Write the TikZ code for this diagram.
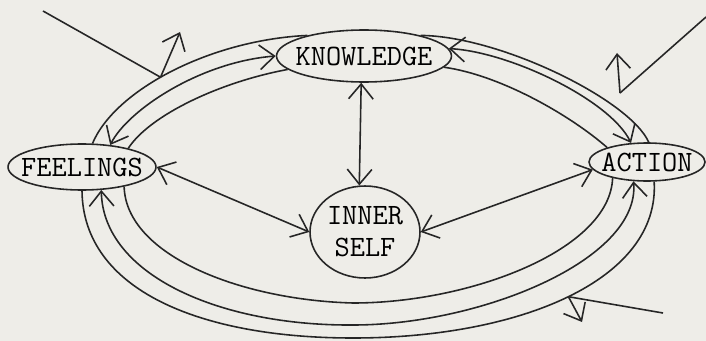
\documentclass[tikz,border=0pt]{standalone}
\usepackage{fontspec}
\usetikzlibrary{arrows.meta, shapes.geometric}
\definecolor{paper}{HTML}{EEEDE8}
\definecolor{ink}{HTML}{262626}
\newcommand{\slim}[1]{\makebox[0pt]{#1}}

\begin{document}
\begin{tikzpicture}[
    x=0.02cm, y=-0.02cm,
    line width=0.9pt, draw=ink,
    >={Straight Barb[length=8.5pt, width=14pt]},
    idea/.style={ellipse, draw=ink, inner sep=0pt, text=black,
                 font=\ttfamily\addfontfeatures{FakeBold=0.8}\fontsize{16.8}{18.3}\selectfont},
  ]
    \useasboundingbox (0,0) rectangle (706,341);
    \fill[paper] (0,0) rectangle (706,341);

    \node[idea, minimum width=3.5cm, minimum height=1.04cm] (know) at (364,56) {\slim{KNOWLEDGE}};
    \node[idea, minimum width=2.96cm, minimum height=0.92cm] (feel) at (82,167) {\slim{FEELINGS}};
    \node[idea, minimum width=2.32cm, minimum height=0.76cm] (act) at (647,162) {\slim{ACTION}};
    \node[idea, minimum width=2.2cm, minimum height=1.84cm, align=center] (self) at (365,232) {\slim{INNER}\\\slim{SELF}};

    \draw (feel.66) .. controls (115,90) and (210,40) .. coordinate[pos=0.45] (tlfoot) (know.160);
    \draw[<->] (feel.38) .. controls (128,110) and (200,62) .. (know.west);
    \draw (feel.22) .. controls (150,115) and (220,82) .. (know.190);

    \draw (know.20) .. controls (500,36) and (630,100) .. (act.85);
    \draw[<->] (know.5) .. controls (510,52) and (610,100) .. (act.130);
    \draw (know.-8) .. controls (500,75) and (570,115) .. (act.160);

    \draw (feel.south) .. controls (83,290) and (200,338) .. (353,338)
      .. controls (520,338) and (660,280) .. coordinate[pos=0.5] (brfoot) (act.-70);
    \draw[<->] (feel.-50) .. controls (103,275) and (220,326) .. (353,325)
      .. controls (480,325) and (640,260) .. (act.-125);
    \draw (feel.-25) .. controls (126,255) and (240,300) .. (353,303)
      .. controls (470,303) and (610,250) .. (act.-155);

    \draw[<->] (know.-96) -- (self.97);
    \draw[<->] (feel.east) -- (self.west);
    \draw[<->] (self.east) -- (act.188);

    \coordinate (tlstart) at (43,11);
    \coordinate (tltip) at (180,32);
    \draw (tlstart) -- (tlfoot);
    \draw[->] (tlfoot) -- (tltip);

    \coordinate (trstart) at (706,17);
    \coordinate (trfoot) at (620,93);
    \coordinate (trtip) at (617,53);
    \draw (trstart) -- (trfoot);
    \draw[->] (trfoot) -- (trtip);

    \coordinate (brstart) at (663,313);
    \coordinate (brtip) at (582,322);
    \draw (brstart) -- (brfoot);
    \draw[->] (brfoot) -- (brtip);
  \end{tikzpicture}
\end{document}
